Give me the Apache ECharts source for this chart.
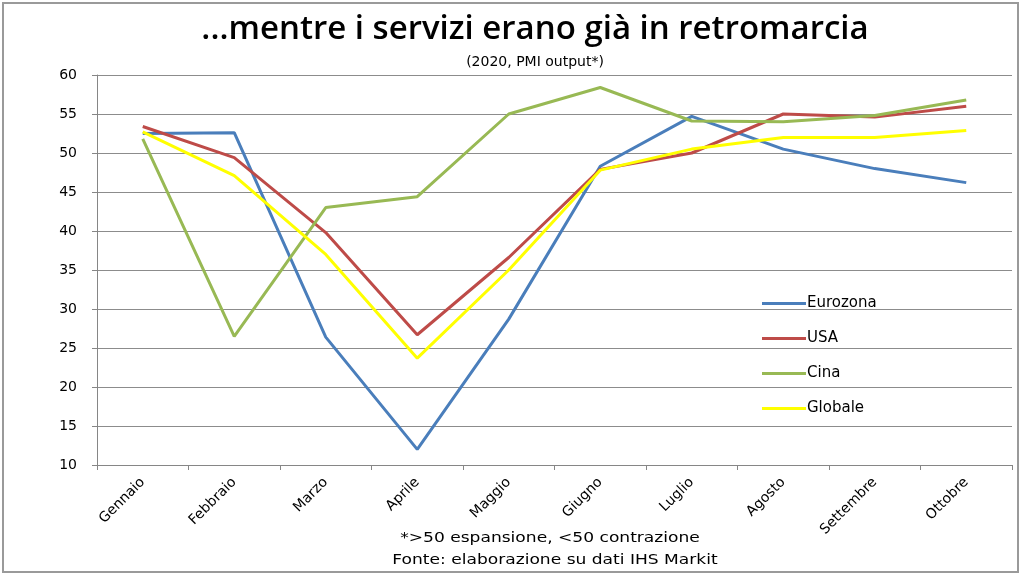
<!DOCTYPE html>
<html><head><meta charset="utf-8">
<script src="https://cdn.jsdelivr.net/npm/echarts@6/dist/echarts.min.js"></script>
<style>html,body{margin:0;padding:0;background:#fff}#c{width:1024px;height:576px}</style>
</head><body><div id="c"></div>
<script>
const categories = ['Gennaio','Febbraio','Marzo','Aprile','Maggio','Giugno','Luglio','Agosto','Settembre','Ottobre'];
const eurozona = [52.5, 52.6, 26.4, 12.0, 28.7, 48.3, 54.7, 50.5, 48.0, 46.2];
const usa      = [53.4, 49.4, 39.8, 26.7, 36.6, 47.9, 50.0, 55.0, 54.6, 56.0];
const cina     = [51.8, 26.5, 43.0, 44.4, 55.0, 58.4, 54.1, 54.0, 54.8, 56.8];
const globale  = [52.7, 47.1, 37.0, 23.7, 35.0, 47.8, 50.5, 52.0, 52.0, 52.9];
const yTicks = [10, 15, 20, 25, 30, 35, 40, 45, 50, 55, 60];

const font = 'DejaVu Sans';
const chart = echarts.init(document.getElementById('c'));
function s(name, data, color) {
  return { name, type: 'line', data, symbol: 'none', smooth: false,
    lineStyle: { color, width: 3 }, itemStyle: { color } };
}
chart.setOption({
  animation: false,
  title: [
    { text: '...mentre i servizi erano già in retromarcia', left: 530, top: 8, textAlign: 'center',
      textStyle: { fontFamily: 'Open Sans', fontSize: 33, fontWeight: 600, color: '#000' } },
    { text: '(2020, PMI output*)', left: 530, top: 50, textAlign: 'center',
      textStyle: { fontFamily: font, fontSize: 14, fontWeight: 'normal', color: '#000' } }
  ],
  grid: { left: 97, right: 12, top: 75, bottom: 111 },
  legend: {
    orient: 'vertical', left: 757, top: 291, itemGap: 20, itemWidth: 44, itemHeight: 3,
    icon: 'rect',
    textStyle: { fontFamily: font, fontSize: 15, color: '#000', padding: [0,0,0,-4] },
    data: ['Eurozona', 'USA', 'Cina', 'Globale']
  },
  xAxis: {
    type: 'category', data: categories, boundaryGap: true,
    axisLine: { lineStyle: { color: '#868686', width: 1 } },
    axisTick: { show: true, alignWithLabel: false, length: 5, lineStyle: { color: '#868686' } },
    axisLabel: { rotate: 45, fontFamily: font, fontSize: 14, color: '#000', margin: 15 }
  },
  yAxis: {
    type: 'value', min: yTicks[0], max: yTicks[yTicks.length - 1], interval: 5,
    axisLine: { show: true, lineStyle: { color: '#868686', width: 1 } },
    axisTick: { show: true, length: 5, lineStyle: { color: '#868686' } },
    axisLabel: { fontFamily: font, fontSize: 14, color: '#000', margin: 20 },
    splitLine: { lineStyle: { color: '#8c8c8c', width: 1.2 } }
  },
  series: [
    s('Eurozona', eurozona, '#4a7ebb'),
    s('USA', usa, '#be4b48'),
    s('Cina', cina, '#98b954'),
    s('Globale', globale, '#ffff00')
  ],
  graphic: [
    { type: 'rect', shape: { x: 3, y: 3, width: 1015, height: 569 }, silent: true, z: -1,
      style: { fill: 'none', stroke: '#9a9a9a', lineWidth: 2 } },
    { type: 'text', x: 550, y: 538, scaleX: 1.22,
      style: { text: '*>50 espansione, <50 contrazione', font: '14px "DejaVu Sans"', fill: '#000',
        textAlign: 'center', textVerticalAlign: 'middle', x: 0, y: 0 } },
    { type: 'text', x: 555, y: 560, scaleX: 1.22,
      style: { text: 'Fonte: elaborazione su dati IHS Markit', font: '14px "DejaVu Sans"', fill: '#000',
        textAlign: 'center', textVerticalAlign: 'middle', x: 0, y: 0 } }
  ]
});
</script></body></html>
